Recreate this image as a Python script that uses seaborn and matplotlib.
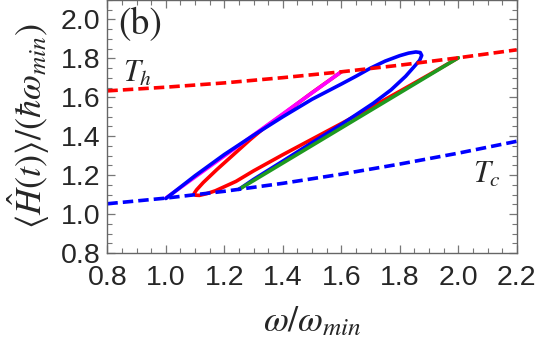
import matplotlib
matplotlib.use("Agg")
import matplotlib.pyplot as plt
import seaborn as sns
from matplotlib.ticker import MultipleLocator, FormatStrFormatter

# isotherm curves (energy vs frequency)
omega_iso = [0.8, 1.0, 1.2, 1.4, 1.6, 1.8, 2.0, 2.2]
hot_iso = [1.633, 1.652, 1.674, 1.701, 1.731, 1.765, 1.803, 1.844]
cold_iso = [1.053, 1.082, 1.117, 1.158, 1.205, 1.257, 1.313, 1.374]

# quasi-static adiabats
magenta_w = [1.0, 1.6]
magenta_e = [1.082, 1.731]
green_w = [1.25, 2.0]
green_e = [1.127, 1.803]

# finite-time cycle (blue loop), isotherm part hidden under the dashed line
blue_w = [1.0, 1.1, 1.2, 1.3, 1.4, 1.5, 1.6, 1.65, 1.7, 1.75, 1.8, 1.83, 1.855,
          1.87, 1.875, 1.868, 1.85, 1.82, 1.77, 1.71, 1.67, 1.6, 1.5, 1.4, 1.3,
          1.25]
blue_e = [1.080, 1.197, 1.306, 1.405, 1.500, 1.590, 1.668, 1.708, 1.750, 1.786,
          1.814, 1.827, 1.833, 1.830, 1.815, 1.790, 1.759, 1.708, 1.638, 1.570,
          1.530, 1.460, 1.367, 1.272, 1.178, 1.127]

# second finite-time cycle (red loop)
red_w = [1.6, 1.5, 1.45, 1.4, 1.334, 1.288, 1.231, 1.174, 1.128, 1.105, 1.097,
         1.102, 1.115, 1.14, 1.17, 1.24, 1.30, 1.40, 1.50, 1.60, 1.70, 1.80, 1.90,
         2.0]
red_e = [1.731, 1.624, 1.568, 1.512, 1.440, 1.382, 1.305, 1.228, 1.162, 1.124,
         1.106, 1.097, 1.096, 1.105, 1.120, 1.168, 1.222, 1.305, 1.385, 1.465,
         1.547, 1.631, 1.716, 1.803]

sns.set_style("ticks")
plt.rcParams["font.family"] = ["Liberation Sans", "DejaVu Sans"]
plt.rcParams["mathtext.fontset"] = "stix"

fig = plt.figure(figsize=(5.38, 3.48), dpi=100)
ax = fig.add_axes([0.1995, 0.273, 0.761, 0.727])

lw = 2.6
raw = dict(sort=False, estimator=None, errorbar=None, lw=lw, ax=ax)
sns.lineplot(x=red_w, y=red_e, color="#ff0000", **raw)
sns.lineplot(x=magenta_w, y=magenta_e, color="#ff00ff", **raw)
sns.lineplot(x=blue_w, y=blue_e, color="#0000ff", **raw)
sns.lineplot(x=green_w, y=green_e, color="#1f9a1f", **raw)
sns.lineplot(x=omega_iso, y=hot_iso, color="#ff0000",
             linestyle=(0, (2.9, 1.4)), **raw)
sns.lineplot(x=omega_iso, y=cold_iso, color="#0000ff",
             linestyle=(0, (2.9, 1.4)), **raw)

ax.set_xlim(0.8, 2.2)
ax.set_ylim(0.8, 2.1)
ax.xaxis.set_major_locator(MultipleLocator(0.2))
ax.xaxis.set_minor_locator(MultipleLocator(0.05))
ax.yaxis.set_major_locator(MultipleLocator(0.2))
ax.yaxis.set_minor_locator(MultipleLocator(0.05))
ax.xaxis.set_major_formatter(FormatStrFormatter("%.1f"))
ax.yaxis.set_major_formatter(FormatStrFormatter("%.1f"))
ax.set_yticks([0.8, 1.0, 1.2, 1.4, 1.6, 1.8, 2.0])

ax.tick_params(which="both", direction="in", top=True, right=True,
               color="#777777", labelsize=20.5)
ax.tick_params(which="major", length=6, width=0.9)
ax.tick_params(which="minor", length=3.5, width=0.8)
ax.tick_params(axis="x", pad=9)
ax.tick_params(axis="y", pad=5)
for s in ax.spines.values():
    s.set_color("#666666")
    s.set_linewidth(1.0)

ax.set_xlabel(r"$\omega/\omega_{min}$", fontsize=26, labelpad=9)
ax.set_ylabel(r"$\langle\hat{H}(t)\rangle/(\hbar\omega_{min})$", fontsize=26,
              labelpad=6)

ax.text(0.026, 0.97, "(b)", transform=ax.transAxes, fontsize=27,
        family="STIXGeneral", va="top", ha="left")
ax.text(0.902, 1.72, r"$T_h$", fontsize=22, ha="center", va="center")
ax.text(2.10, 1.20, r"$T_c$", fontsize=22, ha="center", va="center")

fig.savefig("out.png", dpi=100)
